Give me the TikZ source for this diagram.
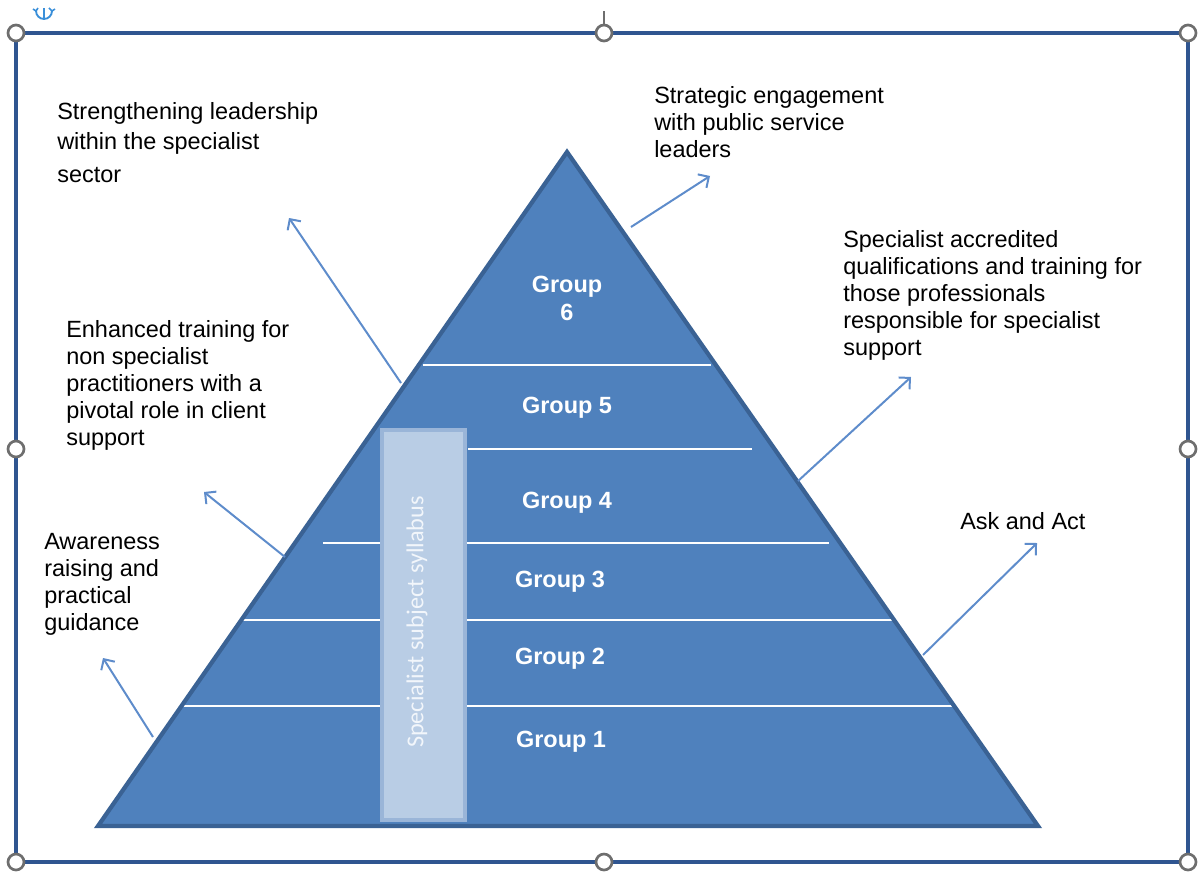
\documentclass[tikz,border=0pt]{standalone}
\usepackage{fontspec}
\setmainfont{Liberation Sans}
\newfontfamily\calib{Carlito}
\usetikzlibrary{arrows.meta}
\definecolor{pyrfill}{HTML}{4F81BD}
\definecolor{pyredge}{HTML}{3A6294}
\definecolor{arrowc}{HTML}{5E8CCB}
\definecolor{framec}{HTML}{2F5590}
\definecolor{handlec}{HTML}{6E6E6E}
\definecolor{barfill}{HTML}{B9CDE5}
\definecolor{baredge}{HTML}{9AB5D8}
\definecolor{bartext}{HTML}{F2F6FB}
\definecolor{rotc}{HTML}{3A8FD9}
\begin{document}
\begin{tikzpicture}[x=0.75pt,y=-0.75pt,
  lbl/.style={anchor=north west,inner sep=0pt,align=left,font=\fontsize{17.6}{20.25}\selectfont,text=black},
  grp/.style={inner sep=0pt,align=center,text=white,font=\bfseries\fontsize{17.6}{21}\selectfont},
  conn/.style={draw=arrowc,line width=1.5pt,-{Straight Barb[length=6pt,width=12pt]}},
  divider/.style={draw=white,line width=1.5pt},
  handle/.style={circle,draw=handlec,fill=white,line width=2pt,minimum size=12pt,inner sep=0pt}]
\useasboundingbox (0,0) rectangle (1201,874);
% selection frame
\draw[framec,line width=3pt] (16,33) rectangle (1188,862);
\coordinate (rottop) at (604,11);
\node[handle] (h2) at (604,33) {};
\draw[handlec,line width=1pt] (h2.north) -- (rottop);
\node[handle] (h1) at (16,33) {};
\node[handle] (h3) at (1188,33) {};
\node[handle] (h4) at (16,449) {};
\node[handle] (h5) at (1188,449) {};
\node[handle] (h6) at (16,862) {};
\node[handle] (h7) at (604,862) {};
\node[handle] (h8) at (1188,862) {};
% rotation glyph
\draw[rotc,line width=1.4pt] (36,11) arc[start angle=180,end angle=0,radius=8];
\draw[rotc,line width=1.4pt] (44,8) -- (44,20);
\draw[rotc,line width=1.2pt] (33,9) -- (36,11) -- (38,8);
\draw[rotc,line width=1.2pt] (49,8) -- (52,11) -- (55,9);
% pyramid
\coordinate (apex) at (567,152);
\coordinate (bl) at (98,826);
\coordinate (br) at (1038,826);
\fill[pyrfill] (apex) -- (bl) -- (br) -- cycle;
\coordinate (d6l) at (423,365); \coordinate (d6r) at (711,365);
\coordinate (d5l) at (468,449); \coordinate (d5r) at (752,449);
\coordinate (d4l) at (323,543); \coordinate (d4r) at (829,543);
\coordinate (d3l) at (243,620); \coordinate (d3r) at (898,620);
\coordinate (d2l) at (179,706); \coordinate (d2r) at (958,706);
\draw[divider] (d6l) -- (d6r);
\draw[divider] (d5l) -- (d5r);
\draw[divider] (d4l) -- (d4r);
\draw[divider] (d3l) -- (d3r);
\draw[divider] (d2l) -- (d2r);
% syllabus bar
\draw[fill=barfill,draw=baredge,line width=3pt] (382,430) rectangle (465,820);
\node[rotate=90,inner sep=0pt,text=bartext,font=\calib\fontsize{18.2}{21}\selectfont] (bar) at (417,622) {Specialist subject syllabus};
\draw[pyredge,line width=3.2pt] (apex) -- (bl) -- (br) -- cycle;
% group labels
\node[grp] (g6) at (567,298) {Group\\6};
\node[grp] (g5) at (567,408) {Group 5};
\node[grp] (g4) at (567,503) {Group 4};
\node[grp] (g3) at (560,582) {Group 3};
\node[grp] (g2) at (560,659) {Group 2};
\node[grp] (g1) at (561,742) {Group 1};
% text labels
\node[lbl] (t1) at (57,102) {Strengthening leadership\\[2.25pt] within the specialist\\[4.5pt] sector};
\node[lbl] (t2) at (654,86) {Strategic engagement\\ with public service\\ leaders};
\node[lbl] (t3) at (843,230) {Specialist accredited\\ qualifications and training for\\ those professionals\\ responsible for specialist\\ support};
\node[lbl] (t4) at (66,320) {Enhanced training for\\ non specialist\\ practitioners with a\\ pivotal role in client\\ support};
\node[lbl] (t5) at (44,533) {Awareness\\ raising and\\ practical\\ guidance};
\node[lbl] (t6) at (960,512) {Ask and Act};
% arrows
\coordinate (a1s) at (401,383); \coordinate (a1e) at (289,218);
\coordinate (a2s) at (631,227); \coordinate (a2e) at (710,176);
\coordinate (a3s) at (798,481); \coordinate (a3e) at (911,377);
\coordinate (a4s) at (285,557); \coordinate (a4e) at (204,492);
\coordinate (a5s) at (153,737); \coordinate (a5e) at (103,658);
\coordinate (a6s) at (923,655); \coordinate (a6e) at (1037,543);
\draw[conn] (a1s) -- (a1e);
\draw[conn] (a2s) -- (a2e);
\draw[conn] (a3s) -- (a3e);
\draw[conn] (a4s) -- (a4e);
\draw[conn] (a5s) -- (a5e);
\draw[conn] (a6s) -- (a6e);
\end{tikzpicture}
\end{document}
